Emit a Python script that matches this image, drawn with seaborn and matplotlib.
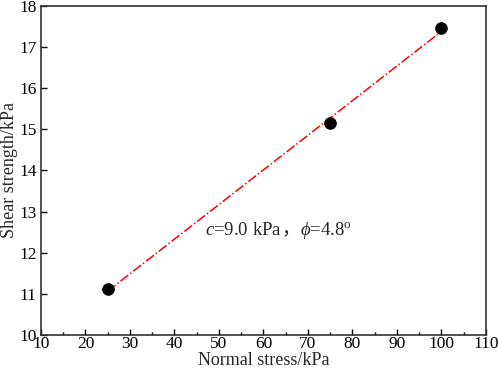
import numpy as np
import matplotlib
matplotlib.use("Agg")
import matplotlib.pyplot as plt
import seaborn as sns
from matplotlib.ticker import MultipleLocator
from matplotlib.offsetbox import TextArea, HPacker, AnnotationBbox

# data
normal_stress = [25, 75, 100]
shear_strength = [11.11, 15.15, 17.47]

sns.set_theme(style="ticks")
plt.rcParams['font.family'] = ['Liberation Serif', 'Noto Sans CJK SC']
plt.rcParams['mathtext.fontset'] = 'custom'
plt.rcParams['mathtext.rm'] = 'Liberation Serif'
plt.rcParams['mathtext.it'] = 'Liberation Serif:italic'

fig = plt.figure(figsize=(4.98, 3.73), dpi=100)
ax = fig.add_axes([0.0823, 0.1019, 0.8936, 0.882])

# linear fit (Mohr-Coulomb line)
k, b = np.polyfit(normal_stress, shear_strength, 1)
xs = np.array([normal_stress[0], normal_stress[-1]])
ax.plot(xs, k * xs + b, color="red", ls="-.", lw=1.1, zorder=2)

sns.scatterplot(x=normal_stress, y=shear_strength, ax=ax, color="black",
                s=70, edgecolor="black", zorder=3)

ax.set_xlim(10, 110)
ax.set_ylim(10, 18)
ax.xaxis.set_major_locator(MultipleLocator(10))
ax.xaxis.set_minor_locator(MultipleLocator(5))
ax.yaxis.set_major_locator(MultipleLocator(1))
ax.tick_params(which="both", direction="in", colors="black", labelsize=12.5)
ax.tick_params(axis="x", pad=1)
ax.tick_params(axis="y", pad=3)
ax.tick_params(which="major", length=4, width=1)
ax.tick_params(which="minor", length=2.5, width=1)
for s in ax.spines.values():
    s.set_color("#333333")
    s.set_linewidth(1.2)

ax.set_xlabel("Normal stress/kPa", fontsize=13, labelpad=0)
ax.set_ylabel("Shear strength/kPa", fontsize=13, labelpad=1)

# annotation with italic c and phi, full-width comma from CJK font
fs = 13.5
parts = [
    TextArea(r"$\it{c}$=9.0 kPa", textprops=dict(fontsize=fs)),
    TextArea("，", textprops=dict(fontsize=fs, family="Noto Sans CJK SC")),
    TextArea(r"$\it{\phi}$=4.8$^{\rm o}$", textprops=dict(fontsize=fs)),
]
box = HPacker(children=parts, align="baseline", pad=0, sep=0)
ab = AnnotationBbox(box, (46.8, 12.55), xycoords="data", box_alignment=(0, 0.5),
                    frameon=False, pad=0)
ax.add_artist(ab)

fig.savefig("out.png", dpi=100)
